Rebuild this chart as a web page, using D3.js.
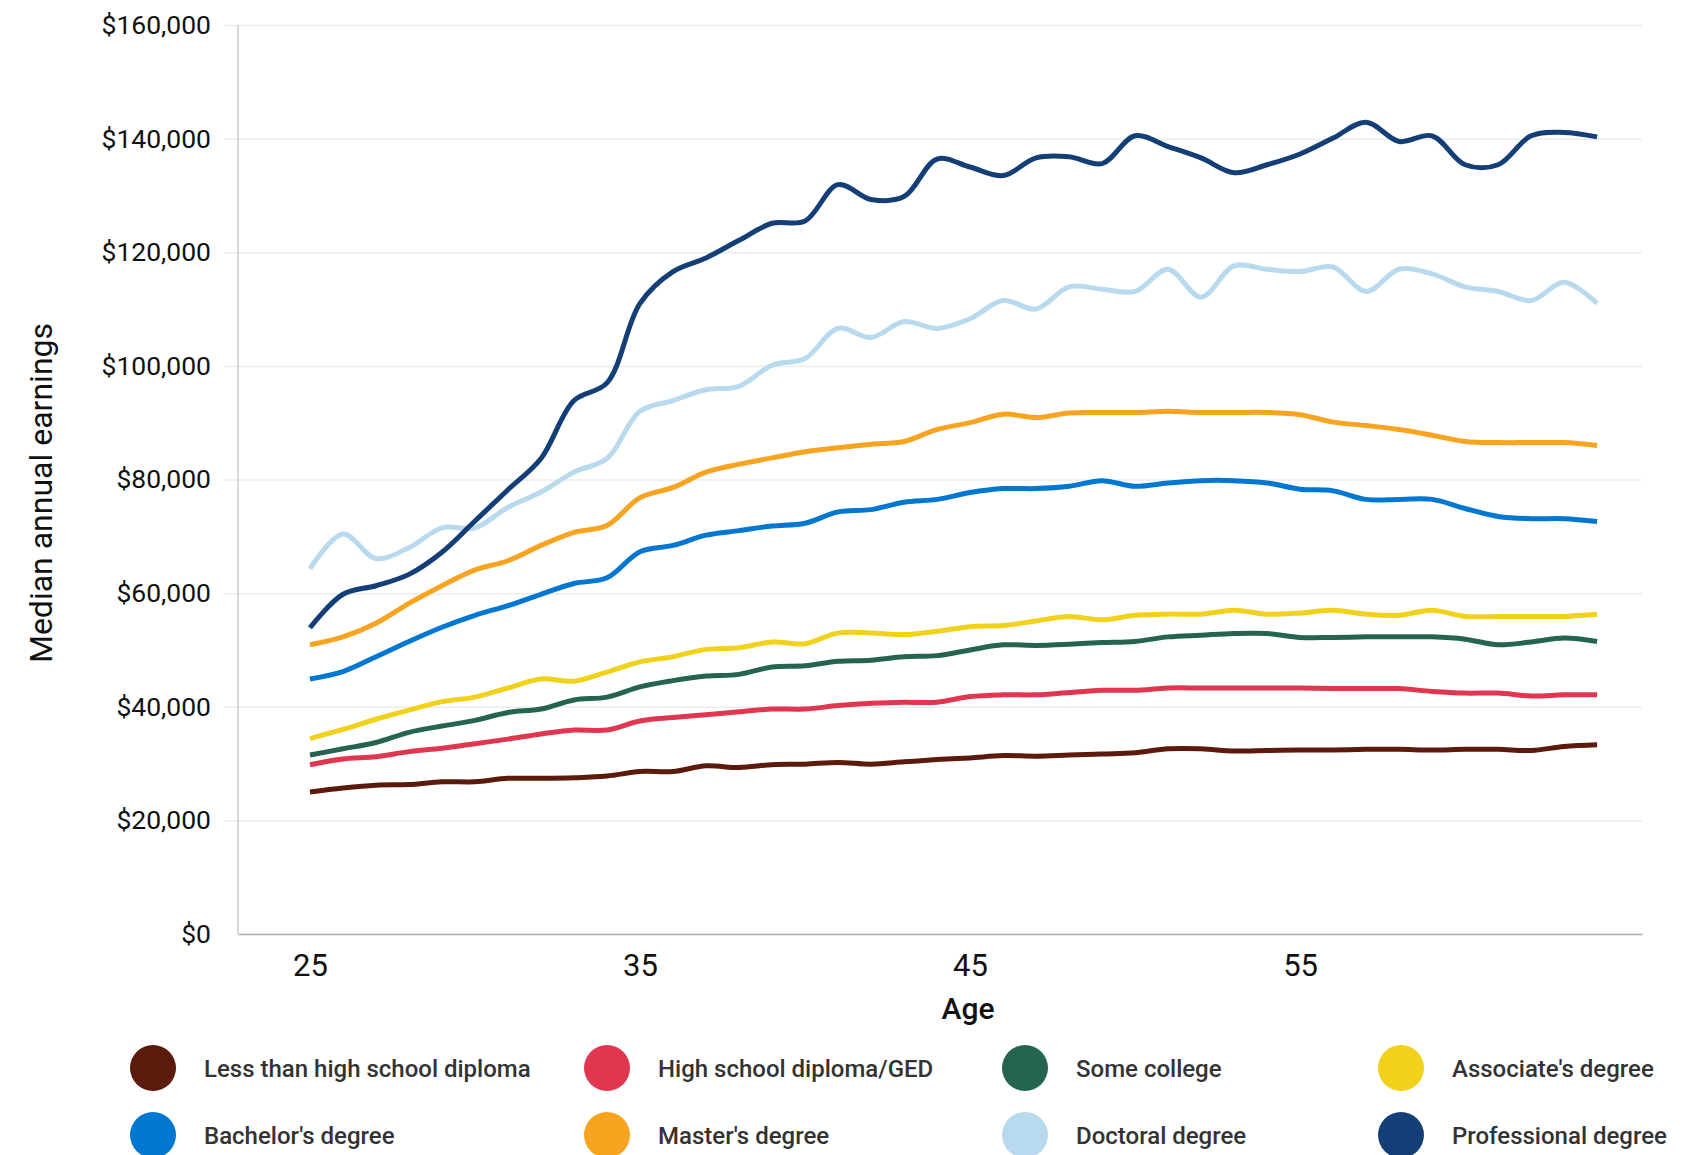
<!DOCTYPE html>
<html>
<head>
<meta charset="utf-8">
<script src="https://cdn.jsdelivr.net/npm/d3@7"></script>
<style>
  html, body { margin: 0; padding: 0; background: #ffffff; }
  svg { display: block; font-family: Roboto, "Noto Sans", sans-serif; }
</style>
</head>
<body>
<svg id="chart" width="1699" height="1155"></svg>
<script>
// ---- Data (earnings in thousands of US dollars, ages 25..64) ----
const ages = d3.range(25, 65);
const seriesNames = [
  "Less than high school diploma", "High school diploma/GED", "Some college", "Associate's degree",
  "Bachelor's degree", "Master's degree", "Doctoral degree", "Professional degree"
];
const seriesColors = ["#5b1a0b", "#e0364f", "#256450", "#f2d11c", "#0077d0", "#f9a420", "#b9daee", "#143f76"];

const lessThanHS = [25.0,25.7,26.2,26.3,26.8,26.8,27.4,27.4,27.5,27.8, 28.6,28.6,29.6,29.3,29.8,29.9,30.2,29.9,30.3,30.7, 31.0,31.4,31.3,31.5,31.7,31.9,32.6,32.6,32.2,32.3, 32.4,32.4,32.5,32.5,32.4,32.5,32.5,32.3,33.0,33.3];
const highSchool = [29.8,30.8,31.2,32.1,32.7,33.5,34.3,35.2,35.9,35.9, 37.5,38.1,38.6,39.1,39.6,39.6,40.2,40.6,40.8,40.8, 41.8,42.1,42.1,42.5,42.9,42.9,43.3,43.3,43.3,43.3, 43.3,43.2,43.2,43.2,42.7,42.4,42.4,41.9,42.1,42.1];
const someCollege = [31.5,32.6,33.7,35.5,36.6,37.6,39.0,39.6,41.2,41.7, 43.5,44.6,45.4,45.7,47.0,47.2,48.0,48.2,48.8,49.0, 50.0,50.9,50.8,51.0,51.3,51.5,52.3,52.6,52.9,52.9, 52.2,52.2,52.3,52.3,52.3,51.9,50.9,51.4,52.1,51.5];
const associates = [34.4,36.0,37.8,39.4,40.9,41.7,43.3,44.9,44.5,46.1, 47.9,48.8,50.1,50.4,51.4,51.1,53.0,53.0,52.7,53.3, 54.1,54.3,55.1,55.9,55.3,56.1,56.3,56.3,57.0,56.3, 56.5,57.0,56.3,56.1,57.0,55.9,55.9,55.9,55.9,56.3];
const bachelors = [44.9,46.2,48.8,51.5,54.0,56.1,57.8,59.8,61.7,62.7, 67.3,68.4,70.2,71.0,71.8,72.3,74.3,74.7,76.0,76.5, 77.7,78.4,78.4,78.8,79.8,78.8,79.4,79.8,79.8,79.4, 78.3,78.0,76.5,76.5,76.5,74.9,73.5,73.1,73.1,72.6];
const masters = [50.9,52.3,54.7,58.2,61.3,64.1,65.7,68.4,70.7,71.9, 76.8,78.6,81.3,82.7,83.8,84.9,85.6,86.2,86.7,88.8, 90.0,91.5,90.9,91.7,91.8,91.8,92.0,91.8,91.8,91.8, 91.4,90.1,89.5,88.8,87.8,86.7,86.5,86.5,86.5,86.0];
const doctoral = [64.3,70.4,66.1,68.0,71.5,71.5,75.1,77.8,81.3,83.7, 92.0,93.9,95.8,96.4,100.1,101.3,106.6,105.0,107.8,106.6, 108.3,111.5,110.0,113.9,113.5,113.1,117.0,112.1,117.6,117.0, 116.6,117.4,113.1,117.0,116.2,113.9,113.1,111.5,114.7,111.0];
const professional = [53.9,59.8,61.3,63.3,67.2,72.7,78.2,83.7,93.9,97.0, 111.0,116.6,119.0,122.1,125.1,125.5,131.9,129.3,129.8,136.4, 135.0,133.5,136.6,136.8,135.6,140.5,138.6,136.6,134.0,135.4, 137.3,140.1,142.9,139.5,140.5,135.4,135.4,140.5,141.1,140.3];

const seriesValues = [lessThanHS, highSchool, someCollege, associates, bachelors, masters, doctoral, professional];
const yTicks = [0, 20000, 40000, 60000, 80000, 100000, 120000, 140000, 160000];
const xTicks = [25, 35, 45, 55];

// ---- Layout ----
const svg = d3.select("#chart");
const plotLeft = 238, plotRight = 1642, plotTop = 25, plotBottom = 934;

const x = d3.scaleLinear().domain([22.82, 65.36]).range([plotLeft, plotRight]);
const y = d3.scaleLinear().domain([0, 160000]).range([plotBottom, plotTop]);

// gridlines
const grid = svg.append("g").attr("transform", `translate(225,0)`)
  .call(d3.axisLeft(y).tickValues(yTicks.filter(v => v > 0)).tickSize(-(plotRight - 225)).tickFormat(""));
grid.select(".domain").remove();
grid.selectAll("line").attr("stroke", "#ececec").attr("stroke-width", 1.5);

// y axis line
svg.append("line").attr("x1", plotLeft).attr("x2", plotLeft).attr("y1", plotTop).attr("y2", plotBottom)
  .attr("stroke", "#cccccc").attr("stroke-width", 1.5);

// y tick labels
const yAxis = svg.append("g").attr("transform", `translate(${plotLeft},0)`)
  .call(d3.axisLeft(y).tickValues(yTicks).tickSize(0).tickPadding(27).tickFormat(d3.format("$,")));
yAxis.select(".domain").remove();
yAxis.selectAll("text").attr("font-size", 26.5).attr("fill", "#111").attr("font-family", "Roboto");

// x axis
const xAxis = svg.append("g").attr("transform", `translate(0,${plotBottom})`)
  .call(d3.axisBottom(x).tickValues(xTicks).tickSize(0).tickPadding(20).tickFormat(d3.format("d")));
xAxis.select(".domain").attr("stroke", "#aaaaaa").attr("stroke-width", 1.5);
xAxis.selectAll("text").attr("font-size", 31).attr("fill", "#111").attr("font-family", "Roboto");

// axis titles
svg.append("text").attr("x", 968).attr("y", 1019).attr("text-anchor", "middle")
  .attr("font-size", 30).attr("font-weight", 500).attr("fill", "#111").text("Age");
svg.append("text").attr("transform", "translate(52,493) rotate(-90)").attr("text-anchor", "middle")
  .attr("font-size", 32).attr("fill", "#111").text("Median annual earnings");

// lines
const line = d3.line()
  .x((d, i) => x(ages[i]))
  .y(d => y(d * 1000))
  .curve(d3.curveCatmullRom.alpha(0.5));

svg.append("g").selectAll("path").data(seriesValues).join("path")
  .attr("d", d => line(d))
  .attr("fill", "none")
  .attr("stroke", (d, i) => seriesColors[i])
  .attr("stroke-width", 5)
  .attr("stroke-linejoin", "round");

// legend
const legendCols = [153, 607, 1025, 1401];
const legendRows = [1068, 1135];
const legend = svg.append("g").selectAll("g").data(seriesNames).join("g")
  .attr("transform", (d, i) => `translate(${legendCols[i % 4]},${legendRows[Math.floor(i / 4)]})`);
legend.append("circle").attr("r", 23).attr("fill", (d, i) => seriesColors[i]);
legend.append("text").attr("x", 51).attr("dy", "0.37em").attr("font-size", 24).attr("font-weight", 500)
  .attr("fill", "#333").text(d => d);
</script>
</body>
</html>
